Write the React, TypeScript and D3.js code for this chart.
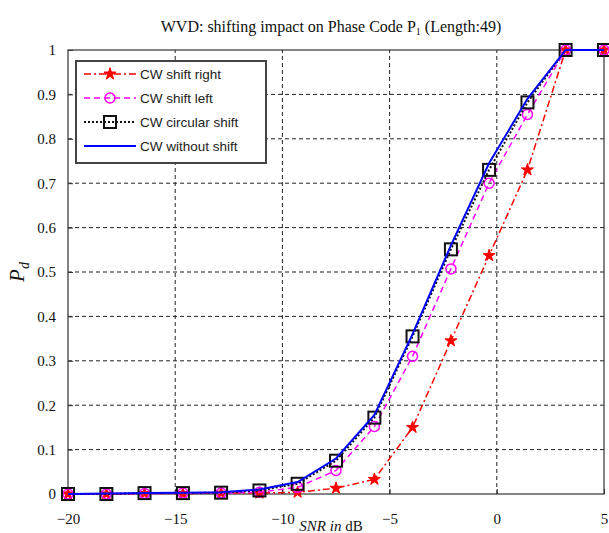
import React, { useRef, useEffect } from 'react';
import * as d3 from 'd3';

const snr = [-20, -18.21, -16.43, -14.64, -12.86, -11.07, -9.29, -7.5, -5.71, -3.93, -2.14, -0.36, 1.43, 3.21, 5];
const shiftRight = [0, 0, 0.001, 0.001, 0.002, 0.002, 0.004, 0.013, 0.033, 0.15, 0.345, 0.537, 0.73, 1, 1];
const shiftLeft = [0, 0, 0.001, 0.002, 0.002, 0.004, 0.015, 0.053, 0.152, 0.31, 0.507, 0.7, 0.855, 1, 1];
const circularShift = [0, 0, 0.002, 0.002, 0.003, 0.008, 0.023, 0.075, 0.172, 0.355, 0.551, 0.73, 0.882, 1, 1];
const withoutShift = [0, 0.001, 0.002, 0.003, 0.004, 0.01, 0.027, 0.08, 0.178, 0.36, 0.56, 0.745, 0.89, 1, 1];

const xTicks = [-20, -15, -10, -5, 0, 5];
const yTicks = [0, 0.1, 0.2, 0.3, 0.4, 0.5, 0.6, 0.7, 0.8, 0.9, 1];

const series = [
  { name: 'CW shift right', values: shiftRight, color: '#ff0000', dash: '7,3,2,3', width: 1.5, marker: 'star' },
  { name: 'CW shift left', values: shiftLeft, color: '#ff00ff', dash: '6,4', width: 1.5, marker: 'circle' },
  { name: 'CW circular shift', values: circularShift, color: '#111111', dash: '2,2', width: 2, marker: 'square' },
  { name: 'CW without shift', values: withoutShift, color: '#0000ff', dash: null, width: 2, marker: null },
];

const App = () => {
  const ref = useRef(null);
  const width = 609;
  const height = 533;

  useEffect(() => {
    const svg = d3.select(ref.current);
    svg.selectAll('*').remove();
    const margin = { top: 50, right: 5, bottom: 39, left: 68 };

    const x = d3.scaleLinear().domain([-20, 5]).range([margin.left, width - margin.right]);
    const y = d3.scaleLinear().domain([0, 1]).range([height - margin.bottom, margin.top]);
    const serif = 'Liberation Serif, Times New Roman, serif';
    const sans = 'Liberation Sans, Arial, sans-serif';

    svg.append('rect').attr('width', width).attr('height', height).attr('fill', '#fff');

    // grid
    const grid = svg.append('g').attr('stroke', '#222').attr('stroke-width', 1).attr('stroke-dasharray', '4,3');
    grid.selectAll('line.gx').data(xTicks.slice(1, -1)).join('line')
      .attr('x1', d => x(d)).attr('x2', d => x(d))
      .attr('y1', y(0)).attr('y2', y(1));
    grid.selectAll('line.gy').data(yTicks.slice(1, -1)).join('line')
      .attr('class', 'gy')
      .attr('x1', x(-20)).attr('x2', x(5))
      .attr('y1', d => y(d)).attr('y2', d => y(d));

    // frame
    svg.append('rect')
      .attr('x', x(-20)).attr('y', y(1))
      .attr('width', x(5) - x(-20)).attr('height', y(0) - y(1))
      .attr('fill', 'none').attr('stroke', '#333').attr('stroke-width', 1.2);

    // axes
    const xAxis = svg.append('g')
      .attr('transform', `translate(0,${y(0)})`)
      .call(d3.axisBottom(x).tickValues(xTicks).tickSize(-5).tickPadding(19).tickFormat(d3.format('d')));
    xAxis.select('.domain').remove();
    xAxis.selectAll('line').attr('stroke', '#333');
    xAxis.selectAll('text').attr('font-family', serif).attr('font-size', 15).attr('fill', '#111');

    const yAxis = svg.append('g')
      .attr('transform', `translate(${x(-20)},0)`)
      .call(d3.axisLeft(y).tickValues(yTicks).tickSize(-5).tickPadding(12).tickFormat(d => String(d)));
    yAxis.select('.domain').remove();
    yAxis.selectAll('line').attr('stroke', '#333');
    yAxis.selectAll('text').attr('font-family', serif).attr('font-size', 15).attr('fill', '#111');

    // title
    const title = svg.append('text')
      .attr('x', 331).attr('y', 32)
      .attr('text-anchor', 'middle')
      .attr('font-family', serif).attr('font-size', 16).attr('fill', '#111');
    title.append('tspan').text('WVD: shifting impact on Phase Code P');
    title.append('tspan').attr('font-size', 10).attr('dy', 3).text('1');
    title.append('tspan').attr('dy', -3).text(' (Length:49)');

    // axis labels
    const xl = svg.append('text')
      .attr('x', 331).attr('y', 531)
      .attr('text-anchor', 'middle')
      .attr('font-family', serif).attr('font-size', 15).attr('fill', '#111');
    xl.append('tspan').attr('font-style', 'italic').text('SNR in ');
    xl.append('tspan').text('dB');

    const yl = svg.append('text')
      .attr('transform', `translate(24,${y(0.5)}) rotate(-90)`)
      .attr('text-anchor', 'middle')
      .attr('font-family', serif).attr('font-size', 21).attr('font-style', 'italic').attr('fill', '#111');
    yl.append('tspan').text('P');
    yl.append('tspan').attr('font-size', 14).attr('dy', 5).text('d');

    const line = d3.line().x(d => x(d[0])).y(d => y(d[1]));

    const drawMarker = (g, kind, color, cx, cy) => {
      if (kind === 'circle') {
        g.append('circle').attr('cx', cx).attr('cy', cy).attr('r', 5)
          .attr('fill', 'none').attr('stroke', color).attr('stroke-width', 1.5);
      } else if (kind === 'square') {
        g.append('rect').attr('x', cx - 6).attr('y', cy - 6).attr('width', 12).attr('height', 12)
          .attr('fill', 'none').attr('stroke', color).attr('stroke-width', 2);
      } else if (kind === 'star') {
        g.append('path')
          .attr('transform', `translate(${cx},${cy})`)
          .attr('d', d3.symbol().type(d3.symbolStar).size(45)())
          .attr('fill', color).attr('stroke', color).attr('stroke-width', 1);
      }
    };

    const plot = svg.append('g');
    series.forEach(s => {
      const pts = snr.map((v, i) => [v, s.values[i]]);
      plot.append('path')
        .attr('d', line(pts))
        .attr('fill', 'none')
        .attr('stroke', s.color)
        .attr('stroke-width', s.width)
        .attr('stroke-dasharray', s.dash);
      if (s.marker) {
        pts.forEach(p => drawMarker(plot, s.marker, s.color, x(p[0]), y(p[1])));
      }
    });

    // legend
    const lg = svg.append('g');
    lg.append('rect')
      .attr('x', 76).attr('y', 61).attr('width', 190).attr('height', 102)
      .attr('fill', '#fff').attr('stroke', '#444').attr('stroke-width', 2);
    series.forEach((s, i) => {
      const ly = 74 + i * 24;
      lg.append('line')
        .attr('x1', 84).attr('x2', 136).attr('y1', ly).attr('y2', ly)
        .attr('stroke', s.color).attr('stroke-width', s.width)
        .attr('stroke-dasharray', s.dash);
      if (s.marker) drawMarker(lg, s.marker, s.color, 110, ly);
      lg.append('text')
        .attr('x', 140).attr('y', ly + 5)
        .attr('font-family', sans).attr('font-size', 13.5).attr('fill', '#222')
        .text(s.name);
    });
  }, []);

  return (
    <svg ref={ref} width={width} height={height} style={{ position: 'absolute', left: 0, top: 0 }}></svg>
  );
};

export default App;
